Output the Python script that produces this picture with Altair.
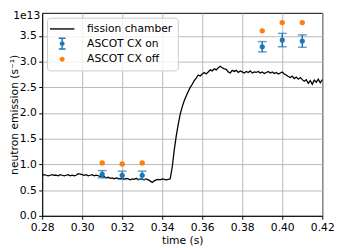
import altair as alt
import pandas as pd

# fission chamber signal (units of 1e13 s^-1), sampled every 1 ms from 0.280 s
fission_values = [
    0.79, 0.80, 0.79, 0.78, 0.79, 0.80, 0.79, 0.79, 0.78, 0.80, 0.79, 0.78, 0.79, 0.80, 0.78, 0.79, 0.78, 0.79,
    0.82, 0.81, 0.80, 0.79, 0.80, 0.78, 0.79, 0.80, 0.78, 0.79, 0.78,
    0.77, 0.75, 0.76, 0.74, 0.75, 0.73, 0.74, 0.72, 0.74, 0.73,
    0.72, 0.74, 0.71, 0.73, 0.72, 0.70, 0.72, 0.71, 0.73, 0.70, 0.72, 0.71, 0.70, 0.72, 0.70,
    0.68, 0.65, 0.68, 0.70, 0.71, 0.70, 0.72, 0.71, 0.70, 0.71, 0.72,
    0.95, 1.28, 1.55, 1.78, 1.98, 2.12, 2.24, 2.33, 2.42, 2.50, 2.56, 2.63, 2.68, 2.74, 2.72, 2.76,
    2.79, 2.76, 2.80, 2.84, 2.82, 2.86, 2.84, 2.88, 2.91, 2.88, 2.86, 2.85,
    2.80, 2.78, 2.83, 2.81, 2.83, 2.79, 2.82, 2.80, 2.78, 2.81, 2.79, 2.82, 2.78, 2.80, 2.79,
    2.81, 2.78, 2.80, 2.77, 2.79, 2.81, 2.78, 2.80, 2.77, 2.79, 2.76, 2.78, 2.80, 2.76, 2.74,
    2.71, 2.69, 2.72, 2.67, 2.70, 2.66, 2.69, 2.65,
    2.62, 2.65, 2.58, 2.63, 2.56, 2.64, 2.60, 2.66, 2.59, 2.65,
]
t_start = 0.280
t_step = 0.001
fission_time = [round(t_start + t_step * i, 3) for i in range(len(fission_values))]

cx_time = [0.31, 0.32, 0.33, 0.39, 0.40, 0.41]
cx_on = [0.81, 0.79, 0.79, 3.29, 3.42, 3.40]
cx_on_err = [0.07, 0.08, 0.08, 0.10, 0.13, 0.12]
cx_off = [1.03, 1.01, 1.03, 3.60, 3.76, 3.76]

series_names = ["fission chamber", "ASCOT CX on", "ASCOT CX off"]
series_colors = ["black", "#1f77b4", "#ff7f0e"]
# legend glyphs (filled outlines, unit box scaled by sqrt(symbolSize)/2)
series_symbols = [
    "M-2.5,-0.14L2.5,-0.14L2.5,0.14L-2.5,0.14Z",
    "M-0.15,-1.1L0.15,-1.1L0.15,1.1L-0.15,1.1Z"
    "M-0.7,-1.25L0.7,-1.25L0.7,-0.95L-0.7,-0.95Z"
    "M-0.7,0.95L0.7,0.95L0.7,1.25L-0.7,1.25Z"
    "M-0.5,0A0.5,0.5 0 1,1 0.5,0A0.5,0.5 0 1,1 -0.5,0Z",
    "M-0.5,0A0.5,0.5 0 1,1 0.5,0A0.5,0.5 0 1,1 -0.5,0Z",
]

x_ticks = [0.28, 0.30, 0.32, 0.34, 0.36, 0.38, 0.40, 0.42]
y_ticks = [0.0, 0.5, 1.0, 1.5, 2.0, 2.5, 3.0, 3.5]
x_title = "time (s)"
y_title = "neutron emission (s⁻¹)"

fc_df = pd.DataFrame({"time": fission_time, "value": fission_values})
cx_df = pd.DataFrame({"time": cx_time, "on": cx_on, "err": cx_on_err, "off": cx_off})
legend_df = pd.DataFrame({"series": series_names})

FONT = "DejaVu Sans"

x_scale = alt.Scale(domain=[0.28, 0.42], nice=False, zero=False)
x_axis = alt.Axis(values=x_ticks, format=".2f", labelFlush=False, labelOverlap=False)
y_scale = alt.Scale(domain=[0, 3.95], nice=False)
y_axis = alt.Axis(values=y_ticks, format=".1f", labelOverlap=False, titlePadding=0)


def X():
    return alt.X("time:Q", title=x_title, scale=x_scale, axis=x_axis)


def Y(field):
    return alt.Y(field, title=y_title, scale=y_scale, axis=y_axis)


line = alt.Chart(fc_df).mark_line(color="black", strokeWidth=1.3).encode(x=X(), y=Y("value:Q"))

err = alt.Chart(cx_df).mark_errorbar(
    color="#1f77b4", thickness=1.5, ticks={"size": 9, "thickness": 1.5, "color": "#1f77b4"}
).encode(x=X(), y=Y("on:Q"), yError="err:Q")

on_pts = alt.Chart(cx_df).mark_point(filled=True, size=28, color="#1f77b4", opacity=1).encode(
    x=X(), y=Y("on:Q")
)

off_pts = alt.Chart(cx_df).mark_point(filled=True, size=30, color="#ff7f0e", opacity=1).encode(
    x=X(), y=Y("off:Q")
)

legend_layer = alt.Chart(legend_df).transform_filter("false").mark_point(filled=True, opacity=1).encode(
    color=alt.Color(
        "series:N",
        scale=alt.Scale(domain=series_names, range=series_colors),
        legend=alt.Legend(
            title=None,
            orient="none",
            legendX=5,
            legendY=5,
            fillColor="rgba(255,255,255,0.8)",
            strokeColor="#cccccc",
            cornerRadius=3,
            padding=5.5,
            rowPadding=0,
            symbolSize=100,
            symbolOffset=4,
            symbolOpacity=1,
            labelOffset=19.5,
            labelFont=FONT,
            labelFontSize=11,
            labelColor="black",
        ),
    ),
    shape=alt.Shape("series:N", scale=alt.Scale(domain=series_names, range=series_symbols)),
)

offset_text = alt.Chart(legend_df).transform_filter("datum.series == 'fission chamber'").mark_text(
    align="right", baseline="alphabetic", font=FONT, fontSize=11, color="black"
).encode(x=alt.value(-2), y=alt.value(6), text=alt.value("1e13"))

chart = alt.layer(line, err, on_pts, off_pts, legend_layer, offset_text).properties(
    width=287,
    height=208,
    autosize=alt.AutoSizeParams(type="none"),
    padding={"left": 35, "top": 2, "right": 12, "bottom": 30},
).configure_view(
    stroke="black", strokeWidth=1
).configure_axis(
    grid=True,
    gridColor="#b0b0b0",
    gridWidth=0.9,
    domainColor="black",
    domainWidth=1,
    tickColor="black",
    tickSize=3.5,
    tickWidth=1,
    labelFont=FONT,
    labelFontSize=11,
    labelColor="black",
    labelPadding=2.5,
    titleFont=FONT,
    titleFontSize=11,
    titleFontWeight="normal",
    titleColor="black",
    titlePadding=2,
)

chart.save("out.html", embed_options={"renderer": "svg", "actions": False})
